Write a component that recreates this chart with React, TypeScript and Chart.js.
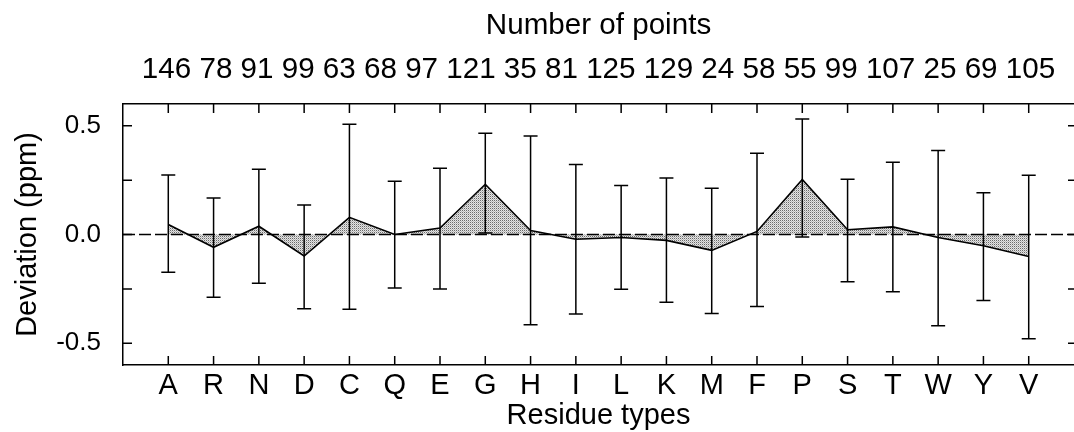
import React, { useEffect, useRef } from 'react';
import { Chart, registerables } from 'chart.js';

Chart.register(...registerables);

const CATEGORIES = ['A', 'R', 'N', 'D', 'C', 'Q', 'E', 'G', 'H', 'I', 'L', 'K', 'M', 'F', 'P', 'S', 'T', 'W', 'Y', 'V'];
const COUNTS = [146, 78, 91, 99, 63, 68, 97, 121, 35, 81, 125, 129, 24, 58, 55, 99, 107, 25, 69, 105];
const MEAN = [0.046, -0.059, 0.038, -0.099, 0.079, 0.0, 0.03, 0.231, 0.018, -0.022, -0.014, -0.027, -0.073, 0.014, 0.253, 0.022, 0.035, -0.014, -0.052, -0.101];
const ERR_HIGH = [0.274, 0.168, 0.3, 0.136, 0.507, 0.245, 0.305, 0.466, 0.453, 0.322, 0.225, 0.26, 0.213, 0.373, 0.531, 0.254, 0.332, 0.386, 0.192, 0.272];
const ERR_LOW = [-0.174, -0.289, -0.224, -0.341, -0.344, -0.246, -0.25, 0.007, -0.415, -0.366, -0.252, -0.312, -0.363, -0.331, -0.011, -0.217, -0.263, -0.419, -0.304, -0.479];
const Y_LABEL_TICKS = [-0.5, 0, 0.5];
const Y_MARK_TICKS = [-0.5, -0.25, 0, 0.25, 0.5];
const X_MIN = -1;
const X_MAX = 20;
const Y_MIN = -0.6;
const Y_MAX = 0.6;

const FONT = '"Liberation Sans", Arial, Helvetica, sans-serif';

function makePattern(): CanvasPattern | string {
  const c = document.createElement('canvas');
  c.width = 2;
  c.height = 2;
  const g = c.getContext('2d');
  if (!g) return '#bdbdbd';
  g.fillStyle = '#e4e4e4';
  g.fillRect(0, 0, 2, 2);
  g.fillStyle = '#6a6a6a';
  g.fillRect(0, 0, 1, 1);
  g.fillStyle = '#b8b8b8';
  g.fillRect(1, 1, 1, 1);
  const p = g.createPattern(c, 'repeat');
  return p || '#bdbdbd';
}

const zeroLinePlugin = {
  id: 'zeroLine',
  afterDatasetsDraw(chart: any) {
    const { ctx, chartArea, scales } = chart;
    const y0 = scales.y.getPixelForValue(0);
    ctx.save();
    ctx.strokeStyle = '#000';
    ctx.lineWidth = 1.3;
    ctx.setLineDash([12, 4]);
    ctx.beginPath();
    ctx.moveTo(chartArea.left, y0);
    ctx.lineTo(chartArea.right, y0);
    ctx.stroke();
    ctx.restore();
  },
};

const errorBarPlugin = {
  id: 'errorBars',
  afterDatasetsDraw(chart: any) {
    const { ctx, scales } = chart;
    const x = scales.x;
    const y = scales.y;
    ctx.save();
    ctx.strokeStyle = '#000';
    ctx.lineWidth = 1.5;
    CATEGORIES.forEach((_, i) => {
      const px = x.getPixelForValue(i);
      const lo = y.getPixelForValue(ERR_LOW[i]);
      const hi = y.getPixelForValue(ERR_HIGH[i]);
      ctx.beginPath();
      ctx.moveTo(px, lo);
      ctx.lineTo(px, hi);
      ctx.moveTo(px - 7, lo);
      ctx.lineTo(px + 7, lo);
      ctx.moveTo(px - 7, hi);
      ctx.lineTo(px + 7, hi);
      ctx.stroke();
    });
    ctx.restore();
  },
};

const innerTicksPlugin = {
  id: 'innerTicks',
  afterDraw(chart: any) {
    const { ctx, chartArea, scales } = chart;
    const { left, right, top, bottom } = chartArea;
    ctx.save();
    ctx.strokeStyle = '#000';
    ctx.lineWidth = 1.5;
    ctx.beginPath();
    CATEGORIES.forEach((_, i) => {
      const px = scales.x.getPixelForValue(i);
      ctx.moveTo(px, bottom);
      ctx.lineTo(px, bottom - 9);
      ctx.moveTo(px, top);
      ctx.lineTo(px, top + 9);
    });
    Y_MARK_TICKS.forEach((v) => {
      const py = scales.y.getPixelForValue(v);
      ctx.moveTo(left, py);
      ctx.lineTo(left + 9, py);
      ctx.moveTo(right, py);
      ctx.lineTo(right - 6, py);
    });
    ctx.stroke();
    ctx.restore();
  },
};

export default function App() {
  const ref = useRef<HTMLCanvasElement>(null);

  useEffect(() => {
    if (!ref.current) return;
    const chart = new Chart(ref.current, {
      type: 'line',
      data: {
        datasets: [
          {
            label: 'Deviation',
            data: CATEGORIES.map((_, i) => ({ x: i, y: MEAN[i] })),
            borderColor: '#000',
            borderWidth: 1.6,
            pointRadius: 0,
            tension: 0,
            fill: { value: 0 },
            backgroundColor: makePattern() as any,
          },
        ],
      },
      options: {
        responsive: false,
        animation: false,
        layout: { padding: 0 },
        plugins: {
          legend: { display: false },
          tooltip: { enabled: false },
          title: { display: false },
        },
        scales: {
          x: {
            type: 'linear',
            position: 'bottom',
            min: X_MIN,
            max: X_MAX,
            afterBuildTicks: (s: any) => {
              s.ticks = CATEGORIES.map((_, i) => ({ value: i }));
            },
            afterFit: (s: any) => {
              s.height = 67;
            },
            grid: { display: false, drawTicks: false },
            border: { display: true, color: '#000', width: 1.5 },
            ticks: {
              autoSkip: false,
              maxRotation: 0,
              padding: 4,
              color: '#000',
              font: { family: FONT, size: 29 },
              callback: (v: any) => CATEGORIES[Math.round(Number(v))] ?? '',
            },
            title: {
              display: true,
              text: 'Residue types',
              color: '#000',
              font: { family: FONT, size: 29, lineHeight: 1.1 },
              padding: { top: 0, bottom: 0 },
            },
          },
          xTop: {
            type: 'linear',
            position: 'top',
            min: X_MIN,
            max: X_MAX,
            afterFit: (s: any) => {
              s.height = 104;
            },
            grid: { display: false, drawTicks: false },
            border: { display: true, color: '#000', width: 1.5 },
            ticks: { display: false },
            title: {
              display: true,
              text: ['Number of points', COUNTS.join(' ')],
              color: '#000',
              font: { family: FONT, size: 29.6, lineHeight: 1.48 },
              padding: { top: 4, bottom: 0 },
            },
          },
          y: {
            type: 'linear',
            position: 'left',
            min: Y_MIN,
            max: Y_MAX,
            afterBuildTicks: (s: any) => {
              s.ticks = Y_LABEL_TICKS.map((v) => ({ value: v }));
            },
            afterFit: (s: any) => {
              s.width = 123;
            },
            grid: { display: false, drawTicks: false },
            border: { display: true, color: '#000', width: 1.5 },
            ticks: {
              padding: 22,
              color: '#000',
              font: { family: FONT, size: 26 },
              callback: (v: any) => Number(v).toFixed(1),
            },
            title: {
              display: true,
              text: 'Deviation (ppm)',
              color: '#000',
              font: { family: FONT, size: 29, lineHeight: 1.2 },
              padding: { top: 11, bottom: 0 },
            },
          },
        },
      } as any,
      plugins: [zeroLinePlugin, errorBarPlugin, innerTicksPlugin],
    });
    return () => chart.destroy();
  }, []);

  return (
    <div style={{ position: 'absolute', left: 0, top: 0, width: 1074, height: 432, background: '#fff' }}>
      <canvas ref={ref} width={1074} height={432} style={{ display: 'block' }} />
    </div>
  );
}
